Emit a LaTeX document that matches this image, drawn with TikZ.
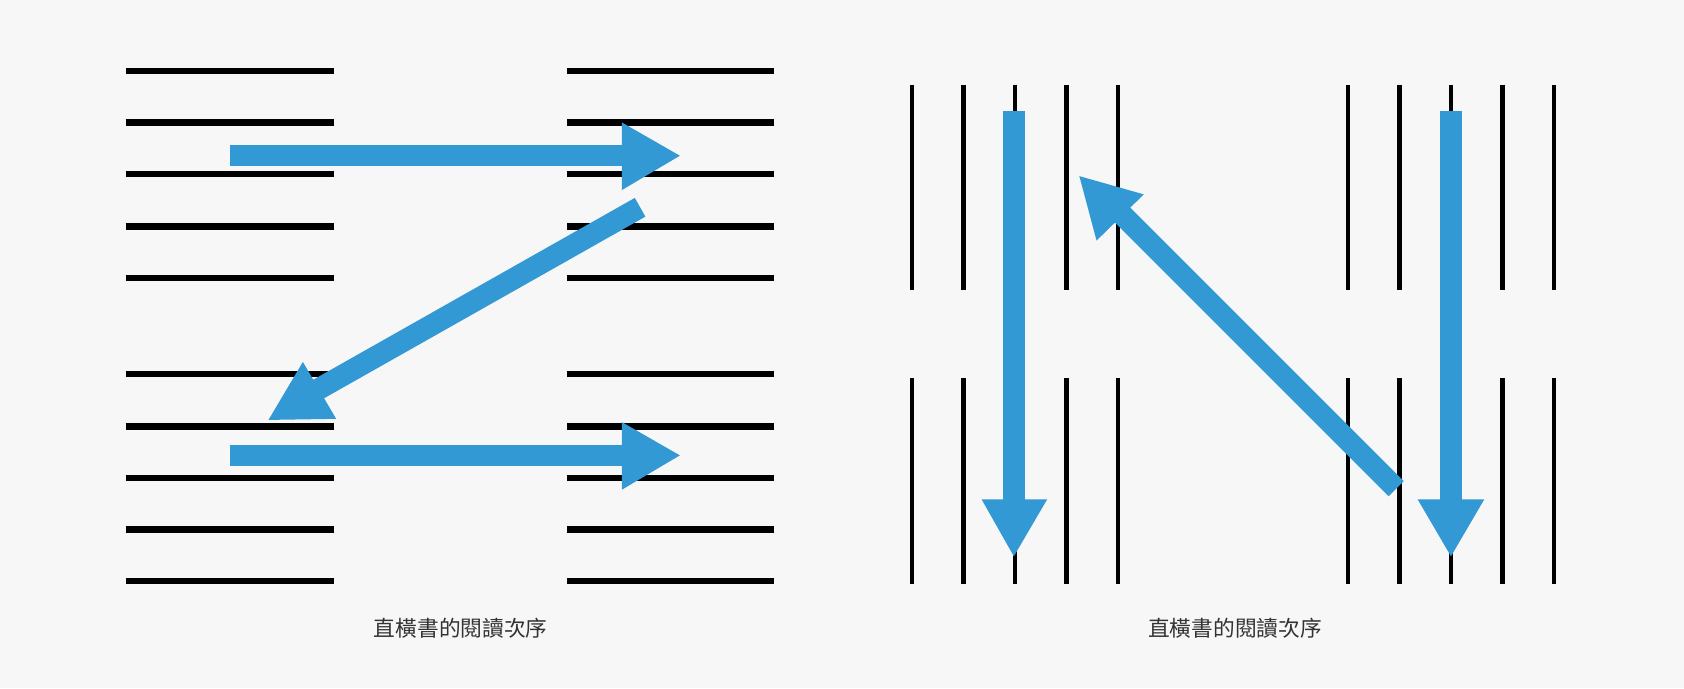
\documentclass[tikz,border=0pt]{standalone}
\usepackage{fontspec}
\newfontfamily\cjk{Noto Sans CJK TC}
\definecolor{bg}{HTML}{F7F7F7}
\definecolor{arr}{HTML}{3399D4}
\definecolor{txt}{HTML}{333333}
\begin{document}
\begin{tikzpicture}[x=0.02cm,y=-0.02cm,
  hline/.style={line width=6*0.02cm},
  vline/.style={line width=4*0.02cm},
  shaft/.style={arr,line width=20*0.02cm},
  head/.style={fill=arr},
  captext/.style={font=\cjk\fontsize{11.5pt}{13pt}\selectfont,text=txt}]
\fill[bg] (0,0) rectangle (1568,641);
\useasboundingbox (0,0) rectangle (1568,641);
\foreach \y in {66,114,162,211,259,348,397,445,493,541}{
  \draw[hline] (117,\y) -- (311,\y);
  \draw[hline] (528,\y) -- (721,\y);
}
\foreach \x in {849,897,945,993,1041,1255,1303,1351,1399,1447}{
  \draw[vline] (\x,79) -- (\x,270);
  \draw[vline] (\x,352) -- (\x,544);
}
% left arrows
\draw[shaft] (214,145) -- (582,145);
\fill[head] (579,114) -- (633,145) -- (579,177) -- cycle;
\draw[shaft] (596,193) -- (290,366);
\fill[head] (282,337) -- (313,390) -- (250,391) -- cycle;
\draw[shaft] (214,424) -- (582,424);
\fill[head] (579,393) -- (633,424) -- (579,456) -- cycle;
% right arrows
\draw[shaft] (944,103) -- (944,467);
\fill[head] (914,465) -- (975,465) -- (944,518) -- cycle;
\draw[shaft] (1351,103) -- (1351,467);
\fill[head] (1320,465) -- (1382,465) -- (1351,518) -- cycle;
\draw[shaft] (1300,455) -- (1040,195);
\fill[head] (1005,164) -- (1065,181) -- (1021,224) -- cycle;
\node[captext] (c1) at (429,585) {直橫書的閱讀次序};
\node[captext] (c2) at (1150,585) {直橫書的閱讀次序};
\end{tikzpicture}
\end{document}
